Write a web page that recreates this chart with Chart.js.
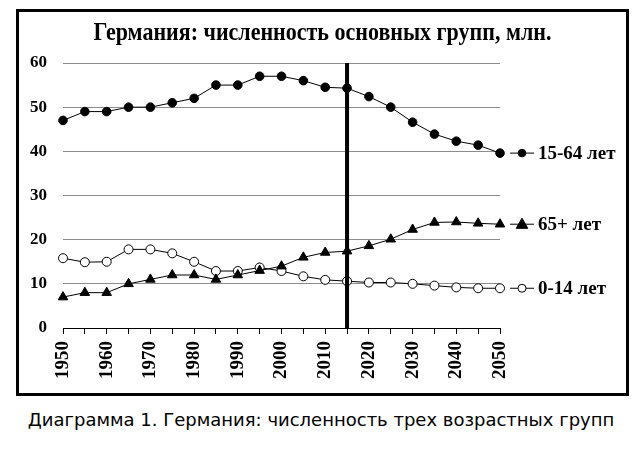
<!DOCTYPE html>
<html><head><meta charset="utf-8">
<script src="https://cdn.jsdelivr.net/npm/chart.js@4/dist/chart.umd.min.js"></script>
<style>
html,body{margin:0;padding:0;background:#fff;width:642px;height:453px;overflow:hidden}
#wrap{position:absolute;left:0;top:0;width:642px;height:400px}
#box{position:absolute;left:16px;top:9px;width:613px;height:387px;border:3px solid #000;box-sizing:border-box;pointer-events:none}
#title{position:absolute;left:16px;width:613px;top:18px;text-align:center;font-family:"Liberation Serif",serif;font-size:22px;font-weight:bold;color:#000;transform:scaleY(1.15);transform-origin:center top;line-height:24px}
#caption{position:absolute;left:0;width:642px;top:409px;text-align:center;font-family:"DejaVu Sans",sans-serif;font-size:18px;color:#000}
</style></head><body>
<div id="wrap"><canvas id="c" width="642" height="400"></canvas></div>
<div id="box"></div>
<div id="title">Германия: численность основных групп, млн.</div>
<div id="caption">Диаграмма 1. Германия: численность трех возрастных групп</div>
<script>
const years = ['1950','1955','1960','1965','1970','1975','1980','1985','1990','1995','2000','2005','2010','2015','2020','2025','2030','2035','2040','2045','2050'];
const working = [47,49,49,50,50,51,52,55,55,57,57,56,54.5,54.3,52.4,50,46.6,43.9,42.3,41.4,39.6];
const elderly = [7,8,8,10,11,12,12,11,12,13,14,16,17.1,17.4,18.6,20.1,22.3,23.9,24,23.7,23.5];
const children = [15.8,14.9,15,17.8,17.8,16.9,15,12.9,12.9,13.7,12.9,11.7,10.9,10.6,10.3,10.3,10,9.6,9.2,9,9];
const seriesLabels = ['15-64 лет','65+ лет','0-14 лет'];
const markerYear = '2015';
const yTicks = [0,10,20,30,40,50,60];

const endLabels = {
  id:'endLabels',
  afterDatasetsDraw(chart){
    const ctx = chart.ctx;
    const xs = chart.scales.x, ys = chart.scales.y;
    const vx = xs.getPixelForValue(years.indexOf(markerYear));
    ctx.save();
    ctx.strokeStyle='#000'; ctx.lineWidth=4;
    ctx.beginPath(); ctx.moveTo(vx, ys.getPixelForValue(60)); ctx.lineTo(vx, ys.getPixelForValue(0)); ctx.stroke();
    chart.data.datasets.forEach((ds,i)=>{
      const meta = chart.getDatasetMeta(i);
      const last = meta.data[meta.data.length-1];
      const y = last.y;
      const x0 = last.x + 10;
      ctx.strokeStyle='#000'; ctx.lineWidth=1;
      ctx.beginPath(); ctx.moveTo(x0,y); ctx.lineTo(x0+24,y); ctx.stroke();
      const cx = x0+12;
      ctx.fillStyle = ds.pointBackgroundColor;
      ctx.beginPath();
      if(ds.pointStyle==='triangle'){
        const r = ds.pointRadius;
        ctx.moveTo(cx, y - r*1.1); ctx.lineTo(cx + r*1.05, y + r*0.75); ctx.lineTo(cx - r*1.05, y + r*0.75); ctx.closePath();
      } else {
        ctx.arc(cx,y,ds.pointRadius-0.5,0,Math.PI*2);
      }
      ctx.fill(); ctx.stroke();
      ctx.fillStyle='#000';
      ctx.font='bold 19px "Liberation Serif", serif';
      ctx.textBaseline='middle'; ctx.textAlign='left';
      ctx.fillText(ds.label, x0+28, y+1);
    });
    ctx.restore();
  }
};

new Chart(document.getElementById('c'),{
  type:'line',
  data:{labels:years,datasets:[
    {label:seriesLabels[0],data:working,borderColor:'#000',borderWidth:1,pointStyle:'circle',pointRadius:4.3,pointBackgroundColor:'#000',pointBorderColor:'#000',pointBorderWidth:1,tension:0},
    {label:seriesLabels[1],data:elderly,borderColor:'#000',borderWidth:1,pointStyle:'triangle',pointRadius:5.5,pointBackgroundColor:'#000',pointBorderColor:'#000',pointBorderWidth:1,tension:0},
    {label:seriesLabels[2],data:children,borderColor:'#000',borderWidth:1,pointStyle:'circle',pointRadius:4.5,pointBackgroundColor:'#fff',pointBorderColor:'#000',pointBorderWidth:1,tension:0}
  ]},
  options:{
    responsive:false,animation:false,
    layout:{padding:{top:63,right:142,left:0,bottom:0}},
    plugins:{legend:{display:false},title:{display:false},tooltip:{enabled:false}},
    scales:{
      x:{
        grid:{drawOnChartArea:false,drawTicks:true,tickLength:6,color:'#000',lineWidth:1},
        border:{display:true,color:'#000',width:1},
        ticks:{autoSkip:false,maxRotation:90,minRotation:90,padding:7,color:'#000',
          font:{family:'"Liberation Serif", serif',size:19,weight:'bold'},
          callback:(v,i)=> (i%2===0? years[i] : '')},
        afterFit:s=>{s.height=72;}
      },
      y:{
        min:0,max:60,
        afterBuildTicks:s=>{s.ticks=yTicks.map(v=>({value:v}));},
        grid:{drawTicks:false,color:ctx=> ctx.tick && ctx.tick.value===0 ? 'rgba(0,0,0,0)' : '#8c8c8c',lineWidth:1},
        border:{display:false},
        ticks:{padding:16,color:'#000',font:{family:'"Liberation Serif", serif',size:17,weight:'bold'}},
        afterFit:s=>{s.width=63;}
      }
    }
  },
  plugins:[endLabels]
});
</script>
</body></html>
